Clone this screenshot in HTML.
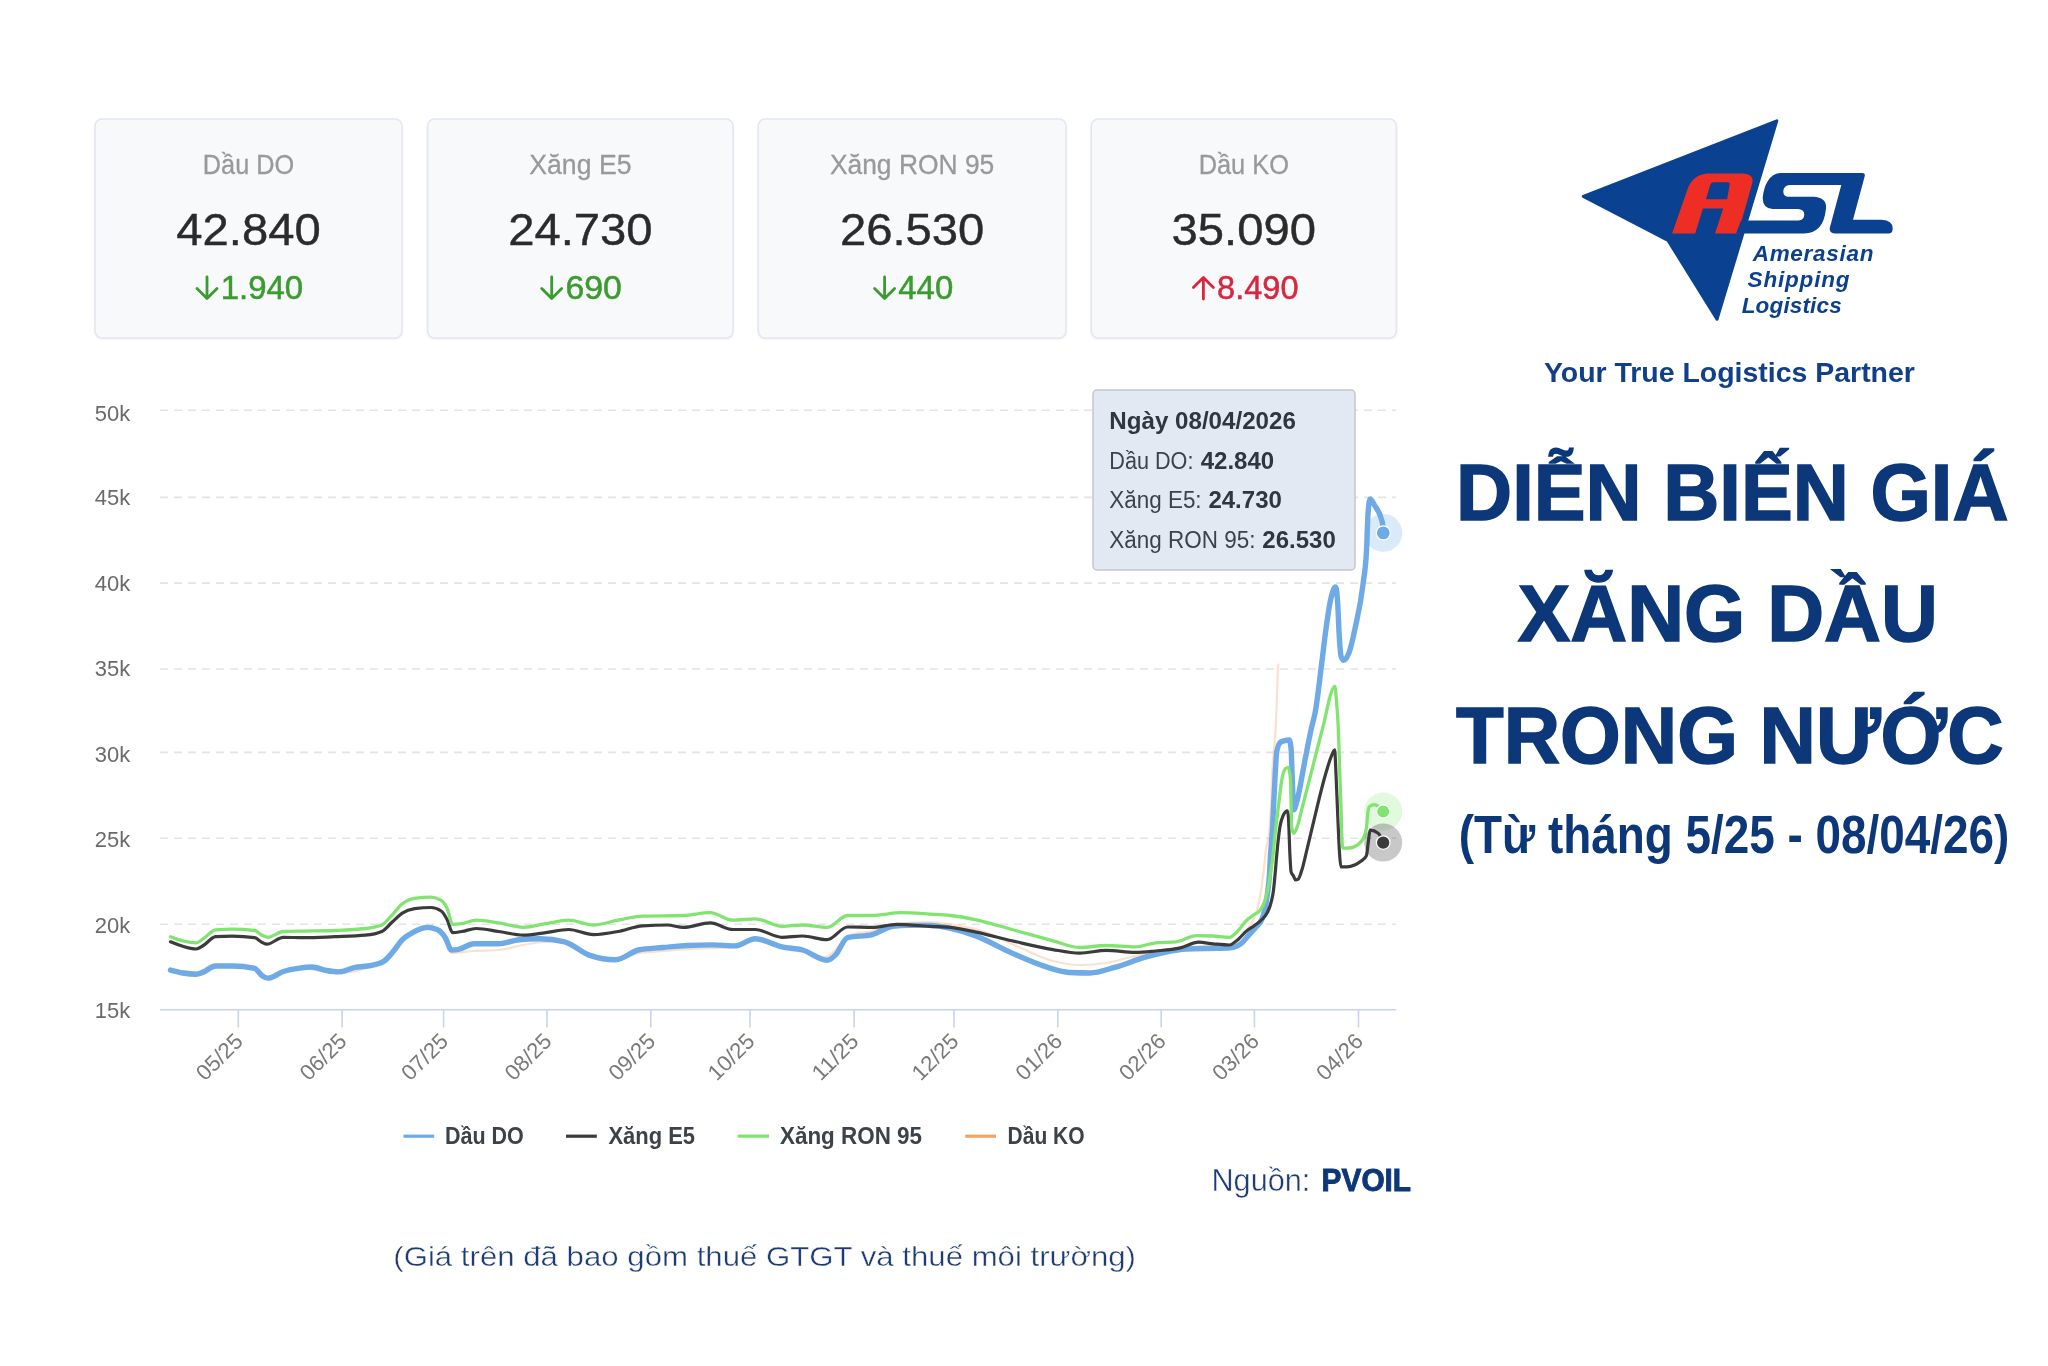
<!DOCTYPE html>
<html lang="vi"><head><meta charset="utf-8"><title>Diễn biến giá xăng dầu trong nước</title>
<style>
html,body{margin:0;padding:0;background:#fff;}
body{width:2048px;height:1366px;overflow:hidden;font-family:"Liberation Sans",sans-serif;}
svg{display:block;will-change:transform;font-family:"Liberation Sans",sans-serif;}
.grid line{stroke:#e4e4e4;stroke-width:1.6;stroke-dasharray:8 6;}
.ylab text{font-size:22.4px;fill:#6a6a6a;}
.xlab text{font-size:22px;fill:#7a7a7a;text-anchor:end;}
.ctitle{font-size:27.6px;fill:#999;stroke:#999;stroke-width:0.3px;text-anchor:middle;}
.cval{font-size:44.6px;fill:#2b2b2b;stroke:#2b2b2b;stroke-width:0.4px;text-anchor:middle;}
.leg text{font-size:23.4px;font-weight:bold;fill:#3d4248;}
.tt text{font-size:23px;fill:#3a424d;}
.tt .b{font-weight:bold;fill:#2f3640;}
.title text{font-weight:bold;fill:#0c3778;text-anchor:middle;}
</style></head><body>
<svg width="2048" height="1366" viewBox="0 0 2048 1366">
<defs>
<filter id="cs" x="-5%" y="-5%" width="110%" height="115%"><feGaussianBlur stdDeviation="1.5"/></filter>
</defs>
<rect width="2048" height="1366" fill="#ffffff"/>

<g id="cards">
<rect x="95.0" y="121" width="307.0" height="218" rx="7" fill="#dfe2ec" opacity="0.7" filter="url(#cs)"/>
<rect x="95.0" y="119" width="307.0" height="219" rx="7" fill="#f8f9fb" stroke="#e3e5ef" stroke-width="1.5"/>
<text class="ctitle" x="248.5" y="173.7" textLength="91.3" lengthAdjust="spacingAndGlyphs">Dầu DO</text>
<text class="cval" x="248.5" y="245.4" textLength="144.4" lengthAdjust="spacingAndGlyphs">42.840</text>
<path d="M207.0 277 V298 M197.0 288.5 L207.0 298.5 L217.0 288.5" fill="none" stroke="#3a9b2e" stroke-width="2.8" stroke-linecap="round" stroke-linejoin="round"/>
<text x="220.7" y="299.2" font-size="32.6" fill="#3a9b2e" stroke="#3a9b2e" stroke-width="0.5" textLength="82.4" lengthAdjust="spacingAndGlyphs">1.940</text>
<rect x="427.6" y="121" width="305.5" height="218" rx="7" fill="#dfe2ec" opacity="0.7" filter="url(#cs)"/>
<rect x="427.6" y="119" width="305.5" height="219" rx="7" fill="#f8f9fb" stroke="#e3e5ef" stroke-width="1.5"/>
<text class="ctitle" x="580.4" y="173.7" textLength="102.3" lengthAdjust="spacingAndGlyphs">Xăng E5</text>
<text class="cval" x="580.4" y="245.4" textLength="144.4" lengthAdjust="spacingAndGlyphs">24.730</text>
<path d="M551.7 277 V298 M541.7 288.5 L551.7 298.5 L561.7 288.5" fill="none" stroke="#3a9b2e" stroke-width="2.8" stroke-linecap="round" stroke-linejoin="round"/>
<text x="565.4" y="299.2" font-size="32.6" fill="#3a9b2e" stroke="#3a9b2e" stroke-width="0.5" textLength="56.5" lengthAdjust="spacingAndGlyphs">690</text>
<rect x="758.3" y="121" width="307.7" height="218" rx="7" fill="#dfe2ec" opacity="0.7" filter="url(#cs)"/>
<rect x="758.3" y="119" width="307.7" height="219" rx="7" fill="#f8f9fb" stroke="#e3e5ef" stroke-width="1.5"/>
<text class="ctitle" x="912.1" y="173.7" textLength="164.4" lengthAdjust="spacingAndGlyphs">Xăng RON 95</text>
<text class="cval" x="912.1" y="245.4" textLength="144.4" lengthAdjust="spacingAndGlyphs">26.530</text>
<path d="M884.6 277 V298 M874.6 288.5 L884.6 298.5 L894.6 288.5" fill="none" stroke="#3a9b2e" stroke-width="2.8" stroke-linecap="round" stroke-linejoin="round"/>
<text x="898.3" y="299.2" font-size="32.6" fill="#3a9b2e" stroke="#3a9b2e" stroke-width="0.5" textLength="54.9" lengthAdjust="spacingAndGlyphs">440</text>
<rect x="1091.3" y="121" width="305.1" height="218" rx="7" fill="#dfe2ec" opacity="0.7" filter="url(#cs)"/>
<rect x="1091.3" y="119" width="305.1" height="219" rx="7" fill="#f8f9fb" stroke="#e3e5ef" stroke-width="1.5"/>
<text class="ctitle" x="1243.8" y="173.7" textLength="90.3" lengthAdjust="spacingAndGlyphs">Dầu KO</text>
<text class="cval" x="1243.8" y="245.4" textLength="144.4" lengthAdjust="spacingAndGlyphs">35.090</text>
<path d="M1203.4 299 V278 M1193.4 287.5 L1203.4 277.5 L1213.4 287.5" fill="none" stroke="#d8263f" stroke-width="2.8" stroke-linecap="round" stroke-linejoin="round"/>
<text x="1217.1" y="299.2" font-size="32.6" fill="#d8263f" stroke="#d8263f" stroke-width="0.5" textLength="81.4" lengthAdjust="spacingAndGlyphs">8.490</text>
</g>
<g class="grid">
<line x1="160" y1="410.2" x2="1396" y2="410.2"/>
<line x1="160" y1="497.4" x2="1396" y2="497.4"/>
<line x1="160" y1="583.1" x2="1396" y2="583.1"/>
<line x1="160" y1="669.0" x2="1396" y2="669.0"/>
<line x1="160" y1="752.4" x2="1396" y2="752.4"/>
<line x1="160" y1="838.3" x2="1396" y2="838.3"/>
<line x1="160" y1="924.2" x2="1396" y2="924.2"/>
</g>
<line x1="160" y1="1009.8" x2="1396" y2="1009.8" stroke="#c9d3f0" stroke-width="1.6"/>
<g stroke="#c9d3f0" stroke-width="1.6">
<line x1="238.3" y1="1010" x2="238.3" y2="1027.5"/>
<line x1="342.1" y1="1010" x2="342.1" y2="1027.5"/>
<line x1="443.6" y1="1010" x2="443.6" y2="1027.5"/>
<line x1="547.0" y1="1010" x2="547.0" y2="1027.5"/>
<line x1="650.8" y1="1010" x2="650.8" y2="1027.5"/>
<line x1="750.0" y1="1010" x2="750.0" y2="1027.5"/>
<line x1="854.1" y1="1010" x2="854.1" y2="1027.5"/>
<line x1="954.0" y1="1010" x2="954.0" y2="1027.5"/>
<line x1="1057.8" y1="1010" x2="1057.8" y2="1027.5"/>
<line x1="1161.2" y1="1010" x2="1161.2" y2="1027.5"/>
<line x1="1254.4" y1="1010" x2="1254.4" y2="1027.5"/>
<line x1="1358.5" y1="1010" x2="1358.5" y2="1027.5"/>
</g>
<g class="ylab">
<text x="94.8" y="421.1" textLength="35.4" lengthAdjust="spacingAndGlyphs">50k</text>
<text x="94.8" y="504.8" textLength="35.4" lengthAdjust="spacingAndGlyphs">45k</text>
<text x="94.8" y="590.6" textLength="35.4" lengthAdjust="spacingAndGlyphs">40k</text>
<text x="94.8" y="676.2" textLength="35.4" lengthAdjust="spacingAndGlyphs">35k</text>
<text x="94.8" y="761.5" textLength="35.4" lengthAdjust="spacingAndGlyphs">30k</text>
<text x="94.8" y="847.4" textLength="35.4" lengthAdjust="spacingAndGlyphs">25k</text>
<text x="94.8" y="933.0" textLength="35.4" lengthAdjust="spacingAndGlyphs">20k</text>
<text x="94.8" y="1018.4" textLength="35.4" lengthAdjust="spacingAndGlyphs">15k</text>
</g>
<g class="xlab">
<text transform="translate(244.3 1042.5) rotate(-45)" textLength="55.5" lengthAdjust="spacingAndGlyphs">05/25</text>
<text transform="translate(348.1 1042.5) rotate(-45)" textLength="55.5" lengthAdjust="spacingAndGlyphs">06/25</text>
<text transform="translate(449.6 1042.5) rotate(-45)" textLength="55.5" lengthAdjust="spacingAndGlyphs">07/25</text>
<text transform="translate(553.0 1042.5) rotate(-45)" textLength="55.5" lengthAdjust="spacingAndGlyphs">08/25</text>
<text transform="translate(656.8 1042.5) rotate(-45)" textLength="55.5" lengthAdjust="spacingAndGlyphs">09/25</text>
<text transform="translate(756.0 1042.5) rotate(-45)" textLength="55.5" lengthAdjust="spacingAndGlyphs">10/25</text>
<text transform="translate(860.1 1042.5) rotate(-45)" textLength="55.5" lengthAdjust="spacingAndGlyphs">11/25</text>
<text transform="translate(960.0 1042.5) rotate(-45)" textLength="55.5" lengthAdjust="spacingAndGlyphs">12/25</text>
<text transform="translate(1063.8 1042.5) rotate(-45)" textLength="55.5" lengthAdjust="spacingAndGlyphs">01/26</text>
<text transform="translate(1167.2 1042.5) rotate(-45)" textLength="55.5" lengthAdjust="spacingAndGlyphs">02/26</text>
<text transform="translate(1260.4 1042.5) rotate(-45)" textLength="55.5" lengthAdjust="spacingAndGlyphs">03/26</text>
<text transform="translate(1364.5 1042.5) rotate(-45)" textLength="55.5" lengthAdjust="spacingAndGlyphs">04/26</text>
</g>
<g fill="none" stroke-linecap="round" stroke-linejoin="round">
<path d="M170.5 969.0C179.0 970.8 187.6 972.5 196.1 972.5C202.6 972.5 209.1 964.0 215.6 964.0C228.6 964.0 241.6 964.8 254.6 966.5C259.0 967.1 263.5 977.0 267.9 977.0C277.8 977.0 287.8 968.0 297.7 968.0C311.4 968.0 325.0 973.0 338.7 973.0C349.6 973.0 360.6 970.7 371.5 966.0C378.3 963.1 385.2 959.3 392.0 954.0C399.5 948.2 407.1 934.8 414.6 932.0C420.1 930.0 425.5 929.0 431.0 929.0C435.8 929.0 440.5 932.3 445.3 939.0C447.5 942.1 449.8 953.0 452.0 953.0C459.3 953.0 466.7 951.5 474.0 951.0C482.2 950.4 490.4 950.7 498.6 950.0C506.7 949.3 514.9 946.4 523.0 945.0C530.3 943.8 537.7 942.0 545.0 942.0C552.7 942.0 560.3 942.0 568.0 942.0C575.3 942.0 582.7 952.2 590.0 955.0C598.7 958.3 607.3 960.0 616.0 960.0C624.0 960.0 632.0 954.3 640.0 953.0C648.3 951.7 656.7 951.7 665.0 951.0C673.3 950.3 681.7 949.6 690.0 949.0C705.0 948.0 720.0 948.3 735.0 947.0C741.7 946.4 748.3 940.0 755.0 940.0C764.0 940.0 773.0 945.3 782.0 947.0C789.0 948.4 796.0 948.4 803.0 950.0C810.3 951.7 817.7 957.0 825.0 957.0C830.0 957.0 835.0 949.6 840.0 945.0C843.3 941.9 846.7 936.2 850.0 935.0C857.3 932.3 864.7 932.8 872.0 931.0C879.7 929.1 887.3 924.9 895.0 924.0C906.7 922.7 918.3 922.0 930.0 922.0C940.0 922.0 950.0 924.1 960.0 926.0C968.3 927.6 976.7 929.2 985.0 932.0C994.0 935.0 1003.0 940.1 1012.0 944.0C1025.7 949.9 1039.3 957.5 1053.0 961.0C1061.9 963.3 1070.8 965.0 1079.7 965.0C1088.5 965.0 1097.2 964.3 1106.0 963.0C1115.7 961.5 1125.3 958.1 1135.0 956.0C1143.3 954.2 1151.7 952.4 1160.0 951.0C1170.0 949.3 1180.0 948.0 1190.0 947.0C1203.3 945.7 1216.7 946.3 1230.0 945.0C1235.0 944.5 1240.0 938.9 1245.0 932.0C1248.9 926.6 1252.7 924.9 1256.6 911.2C1257.7 907.4 1258.7 904.2 1259.8 898.3C1260.6 893.9 1261.4 888.2 1262.2 882.2C1262.9 877.2 1263.5 872.0 1264.2 866.1C1264.8 861.1 1265.3 854.6 1265.9 850.0C1267.1 840.5 1268.2 843.8 1269.4 831.4C1270.5 819.4 1271.7 782.3 1272.8 763.4C1273.9 744.5 1275.1 745.2 1276.2 718.0C1276.8 703.6 1277.4 684.2 1278.0 664.7" stroke="#f7c9a4" stroke-width="2.2" opacity="0.55"/>
<path d="M170.5 970.1C174.6 971.2 178.7 972.3 182.8 973.0C187.2 973.7 191.7 974.2 196.1 974.2C198.5 974.2 200.9 973.0 203.3 972.1C207.4 970.6 211.5 966.0 215.6 966.0C221.1 966.0 226.5 966.0 232.0 966.0C239.5 966.0 247.1 966.8 254.6 968.4C257.0 968.9 259.4 974.0 261.8 975.6C263.8 977.0 265.9 978.1 267.9 978.1C273.0 978.1 278.2 973.1 283.3 971.5C288.1 970.0 292.9 969.2 297.7 968.4C302.5 967.7 307.2 967.0 312.0 967.0C316.8 967.0 321.6 969.7 326.4 970.5C330.5 971.2 334.6 971.9 338.7 971.9C344.2 971.9 349.6 968.5 355.1 967.4C360.6 966.3 366.0 966.7 371.5 965.4C375.6 964.4 379.7 964.0 383.8 961.3C386.5 959.5 389.3 956.2 392.0 953.1C395.4 949.2 398.9 943.2 402.3 939.7C406.4 935.6 410.5 933.6 414.6 931.5C418.7 929.5 422.8 927.4 426.9 927.4C430.3 927.4 433.7 928.1 437.1 929.5C439.8 930.6 442.6 933.4 445.3 937.7C447.4 940.9 449.4 950.0 451.5 950.0C453.5 950.0 455.6 949.9 457.6 949.6C463.1 948.9 468.5 943.8 474.0 943.8C482.2 943.8 490.4 943.8 498.6 943.8C505.5 943.8 512.3 940.4 519.2 939.7C526.0 939.0 532.9 938.7 539.7 938.7C548.0 938.7 556.3 939.7 564.6 941.8C572.8 943.8 581.0 952.2 589.2 955.1C598.1 958.2 607.0 959.8 615.9 959.8C623.4 959.8 630.9 951.5 638.4 950.0C646.6 948.3 654.9 948.3 663.1 947.5C671.3 946.8 679.5 945.9 687.7 945.5C695.9 945.1 704.1 944.9 712.3 944.9C719.8 944.9 727.3 945.9 734.8 945.9C741.6 945.9 748.5 938.7 755.3 938.7C764.2 938.7 773.1 945.0 782.0 946.9C788.8 948.4 795.7 948.1 802.5 950.0C810.7 952.2 818.9 960.2 827.1 960.2C829.8 960.2 832.6 957.7 835.3 955.1C839.4 951.2 843.5 938.7 847.6 937.7C855.8 935.6 864.0 936.7 872.2 934.6C879.0 932.9 885.9 927.2 892.7 926.4C898.2 925.7 903.7 925.4 909.2 925.4C916.1 925.4 923.1 925.4 930.0 925.4C936.8 925.4 943.7 926.9 950.5 928.4C958.7 930.1 966.9 932.6 975.1 935.6C987.4 940.1 999.7 947.7 1012.0 953.1C1022.9 957.9 1033.9 963.0 1044.8 966.4C1053.0 969.0 1061.3 972.1 1069.5 972.5C1076.3 972.8 1083.2 973.0 1090.0 973.0C1098.2 973.0 1106.4 969.6 1114.6 967.4C1124.8 964.6 1135.1 960.1 1145.3 957.2C1152.2 955.2 1159.0 953.4 1165.9 952.0C1172.7 950.6 1179.6 949.3 1186.4 949.0C1196.6 948.5 1206.9 948.6 1217.1 948.3C1221.4 948.2 1225.7 948.1 1230.0 947.8C1234.0 947.5 1238.1 946.1 1242.1 942.7C1244.2 940.9 1246.4 937.8 1248.5 935.4C1250.9 932.7 1253.4 930.4 1255.8 927.4C1257.9 924.7 1260.1 924.4 1262.2 918.5C1263.3 915.4 1264.4 912.4 1265.5 906.4C1266.3 902.1 1267.1 897.3 1267.9 890.3C1268.4 885.6 1269.0 883.1 1269.5 874.2C1269.8 869.7 1270.0 863.0 1270.3 858.1C1271.0 845.3 1271.7 841.1 1272.4 829.6C1273.2 815.9 1274.1 794.1 1274.9 779.8C1275.5 768.9 1276.2 754.0 1276.8 751.2C1278.2 744.9 1279.7 742.4 1281.1 741.8C1283.8 740.6 1286.5 740.0 1289.2 740.0C1289.8 740.0 1290.5 742.9 1291.1 748.7C1291.5 752.4 1291.9 770.5 1292.3 779.8C1292.8 791.4 1293.3 809.7 1293.8 809.7C1295.0 809.7 1296.1 803.9 1297.3 799.7C1299.8 790.7 1302.3 773.8 1304.8 761.1C1306.9 750.6 1308.9 739.5 1311.0 730.0C1312.5 722.9 1314.1 718.9 1315.6 710.1C1317.6 698.4 1319.7 679.4 1321.7 663.4C1323.2 651.9 1324.6 638.7 1326.1 628.2C1327.6 617.6 1329.0 606.9 1330.5 600.1C1332.3 591.9 1334.0 586.9 1335.8 586.9C1336.4 586.9 1337.0 593.0 1337.6 601.8C1338.2 610.1 1338.7 628.0 1339.3 637.0C1339.9 646.5 1340.5 654.5 1341.1 656.3C1342.0 658.9 1342.8 660.2 1343.7 660.2C1345.5 660.2 1347.2 657.4 1349.0 652.8C1351.0 647.5 1353.1 637.8 1355.1 628.2C1357.7 615.8 1360.4 606.6 1363.0 584.3C1364.2 574.2 1365.4 572.6 1366.6 549.1C1367.1 540.0 1367.5 520.5 1368.0 513.9C1368.7 504.0 1369.4 499.0 1370.1 499.0C1371.6 499.0 1373.0 502.7 1374.5 505.2C1377.1 509.7 1379.8 511.0 1382.4 522.7C1382.7 524.0 1383.0 528.5 1383.3 532.9" stroke="#6eaae6" stroke-width="5.4"/>
<path d="M170.5 941.8C174.6 943.5 178.7 945.1 182.8 946.3C187.2 947.6 191.7 949.0 196.1 949.0C198.5 949.0 200.9 946.9 203.3 945.5C207.4 943.2 211.5 937.0 215.6 936.7C221.1 936.3 226.5 936.1 232.0 936.1C239.5 936.1 247.1 936.6 254.6 937.7C257.0 938.0 259.4 941.0 261.8 942.2C263.5 943.0 265.2 944.2 266.9 944.2C272.4 944.2 277.8 937.3 283.3 937.3C290.1 937.3 297.0 937.7 303.8 937.7C314.1 937.7 324.3 937.1 334.6 936.7C344.8 936.3 355.1 936.2 365.3 935.2C370.8 934.7 376.2 934.0 381.7 931.5C385.1 930.0 388.6 925.4 392.0 922.3C395.4 919.2 398.9 915.3 402.3 913.1C406.4 910.4 410.5 909.2 414.6 908.6C420.1 907.9 425.5 907.5 431.0 907.5C434.4 907.5 437.8 908.7 441.2 911.0C443.3 912.4 445.3 916.1 447.4 920.2C449.1 923.6 450.8 932.6 452.5 932.6C455.6 932.6 458.6 932.0 461.7 931.5C466.5 930.8 471.3 928.5 476.1 928.5C483.6 928.5 491.1 930.4 498.6 931.5C506.8 932.7 515.1 935.2 523.3 935.2C530.8 935.2 538.3 933.5 545.8 932.6C553.4 931.6 561.1 929.5 568.7 929.5C576.9 929.5 585.1 934.6 593.3 934.6C601.5 934.6 609.7 933.0 617.9 931.5C626.1 930.0 634.3 926.3 642.5 925.8C650.7 925.3 659.0 925.0 667.2 925.0C672.7 925.0 678.1 927.4 683.6 927.4C692.5 927.4 701.3 922.9 710.2 922.9C717.7 922.9 725.3 929.5 732.8 929.5C740.3 929.5 747.8 929.5 755.3 929.5C764.2 929.5 773.1 937.3 782.0 937.3C788.8 937.3 795.7 936.0 802.5 936.0C810.7 936.0 818.9 939.7 827.1 939.7C833.9 939.7 840.8 927.0 847.6 927.0C855.8 927.0 864.0 927.4 872.2 927.4C880.4 927.4 888.7 924.3 896.9 924.3C907.8 924.3 918.8 925.8 929.7 926.4C936.6 926.8 943.6 926.7 950.5 927.4C958.7 928.2 966.9 930.2 975.1 931.9C987.4 934.4 999.7 938.0 1012.0 940.8C1025.7 943.9 1039.3 947.4 1053.0 949.6C1061.9 951.1 1070.8 953.1 1079.7 953.1C1088.6 953.1 1097.5 950.4 1106.4 950.4C1116.0 950.4 1125.5 952.4 1135.1 952.4C1141.9 952.4 1148.8 951.6 1155.6 951.0C1163.8 950.2 1172.0 949.8 1180.2 947.9C1186.4 946.5 1192.5 942.2 1198.7 942.2C1203.5 942.2 1208.2 943.4 1213.0 943.8C1218.5 944.3 1223.9 945.0 1229.4 945.0C1232.3 945.0 1235.2 941.8 1238.1 939.4C1240.8 937.2 1243.4 933.7 1246.1 931.4C1248.8 929.1 1251.5 927.7 1254.2 925.7C1256.9 923.7 1259.5 922.3 1262.2 919.3C1263.8 917.5 1265.5 916.2 1267.1 912.9C1268.4 910.2 1269.8 907.9 1271.1 902.4C1271.9 899.1 1272.7 896.7 1273.5 890.3C1274.0 886.0 1274.6 880.0 1275.1 874.2C1275.7 868.1 1276.2 860.5 1276.8 854.5C1277.8 843.5 1278.9 833.5 1279.9 827.1C1280.9 820.7 1282.0 818.2 1283.0 815.9C1284.5 812.6 1285.9 810.9 1287.4 810.9C1287.7 810.9 1288.1 813.0 1288.4 817.1C1288.9 823.3 1289.4 844.9 1289.9 854.5C1290.3 862.2 1290.7 870.5 1291.1 871.9C1291.9 874.8 1292.8 874.6 1293.6 876.2C1294.2 877.4 1294.9 880.0 1295.5 880.0C1296.3 880.0 1297.1 879.8 1297.9 879.4C1299.2 878.8 1300.4 874.4 1301.7 870.6C1303.6 865.0 1305.4 855.8 1307.3 848.2C1309.8 838.1 1312.2 827.2 1314.7 817.1C1318.0 803.4 1321.4 789.0 1324.7 777.3C1326.8 770.1 1328.8 762.4 1330.9 757.4C1332.2 754.3 1333.4 749.9 1334.7 749.9C1335.0 749.9 1335.4 760.8 1335.7 767.3C1336.4 780.9 1337.1 801.6 1337.8 817.1C1338.4 830.4 1339.0 845.9 1339.6 854.5C1340.0 860.7 1340.5 866.9 1340.9 866.9C1343.0 866.9 1345.0 866.9 1347.1 866.9C1349.6 866.9 1352.1 866.1 1354.6 865.0C1356.7 864.1 1358.7 863.0 1360.8 861.3C1362.7 859.8 1364.5 859.4 1366.4 855.7C1367.0 854.4 1367.7 846.4 1368.3 842.0C1368.9 837.9 1369.5 830.2 1370.1 830.2C1372.8 830.2 1375.5 831.2 1378.2 833.3C1379.9 834.6 1381.5 838.6 1383.2 842.6" stroke="#3b3b3b" stroke-width="3.2"/>
<path d="M170.5 936.7C174.6 938.2 178.7 939.8 182.8 940.8C187.2 941.9 191.7 942.8 196.1 942.8C198.5 942.8 200.9 940.2 203.3 938.7C207.4 936.1 211.5 930.3 215.6 929.9C221.1 929.4 226.5 929.1 232.0 929.1C239.5 929.1 247.1 929.6 254.6 930.5C257.0 930.8 259.4 934.0 261.8 935.2C263.8 936.2 265.9 937.3 267.9 937.3C273.0 937.3 278.2 931.7 283.3 931.5C290.1 931.2 297.0 931.2 303.8 931.1C314.1 930.9 324.3 930.9 334.6 930.5C344.8 930.1 355.1 929.8 365.3 928.5C370.8 927.8 376.2 927.3 381.7 925.0C385.1 923.5 388.6 918.6 392.0 915.1C395.4 911.6 398.9 906.5 402.3 903.8C406.4 900.5 410.5 898.9 414.6 898.3C420.1 897.5 425.5 897.1 431.0 897.1C434.4 897.1 437.8 898.2 441.2 900.4C443.3 901.7 445.3 904.3 447.4 909.0C449.1 912.9 450.8 924.4 452.5 924.4C455.6 924.4 458.6 924.1 461.7 923.7C466.5 923.0 471.3 920.2 476.1 920.2C483.6 920.2 491.1 921.8 498.6 922.9C506.8 924.1 515.1 927.4 523.3 927.4C530.8 927.4 538.3 924.9 545.8 923.7C553.4 922.5 561.1 920.2 568.7 920.2C576.9 920.2 585.1 925.0 593.3 925.0C601.5 925.0 609.7 921.7 617.9 920.2C626.1 918.7 634.3 916.3 642.5 916.1C656.2 915.7 669.9 915.9 683.6 915.5C692.5 915.2 701.3 912.7 710.2 912.7C717.7 912.7 725.3 920.2 732.8 920.2C740.3 920.2 747.8 918.8 755.3 918.8C764.2 918.8 773.1 926.4 782.0 926.4C788.8 926.4 795.7 925.0 802.5 925.0C810.7 925.0 818.9 927.4 827.1 927.4C833.9 927.4 840.8 915.5 847.6 915.5C855.8 915.5 864.0 915.5 872.2 915.5C881.8 915.5 891.4 912.7 901.0 912.7C910.6 912.7 920.1 913.5 929.7 914.1C936.6 914.5 943.6 914.7 950.5 915.5C958.7 916.4 966.9 917.9 975.1 919.6C987.4 922.1 999.7 926.2 1012.0 929.5C1025.7 933.2 1039.3 937.2 1053.0 940.8C1061.9 943.1 1070.8 947.5 1079.7 947.5C1088.6 947.5 1097.5 945.5 1106.4 945.5C1116.0 945.5 1125.5 946.9 1135.1 946.9C1141.9 946.9 1148.8 943.5 1155.6 942.8C1162.4 942.1 1169.3 942.5 1176.1 941.8C1182.9 941.1 1189.8 935.6 1196.6 935.6C1202.1 935.6 1207.5 935.7 1213.0 936.0C1218.5 936.3 1223.9 937.3 1229.4 937.3C1232.3 937.3 1235.2 933.5 1238.1 930.6C1240.8 927.9 1243.4 923.6 1246.1 920.9C1248.8 918.2 1251.5 916.6 1254.2 914.5C1256.3 912.8 1258.5 912.9 1260.6 909.6C1261.9 907.6 1263.3 905.7 1264.6 901.6C1265.7 898.2 1266.8 894.4 1267.9 888.7C1268.7 884.6 1269.5 879.3 1270.3 874.2C1271.1 869.1 1271.9 864.9 1272.7 858.1C1273.4 851.9 1274.2 842.8 1274.9 835.8C1276.1 824.1 1277.4 814.7 1278.6 804.7C1279.7 796.1 1280.7 785.7 1281.8 779.8C1283.0 772.9 1284.3 769.7 1285.5 768.6C1286.5 767.7 1287.4 767.3 1288.4 767.3C1289.1 767.3 1289.8 771.5 1290.5 779.8C1290.7 782.2 1290.9 796.8 1291.1 804.7C1291.3 812.6 1291.5 825.8 1291.7 827.1C1292.3 831.2 1293.0 833.3 1293.6 833.3C1294.6 833.3 1295.7 830.8 1296.7 828.3C1298.6 823.9 1300.4 814.3 1302.3 807.2C1305.2 796.2 1308.1 784.8 1311.0 773.6C1314.7 759.1 1318.5 743.7 1322.2 730.0C1326.4 714.4 1330.7 686.4 1334.9 686.4C1335.5 686.4 1336.1 696.3 1336.7 703.9C1337.3 711.1 1337.8 716.1 1338.4 730.0C1338.8 739.8 1339.2 755.3 1339.6 767.3C1340.0 780.3 1340.5 791.7 1340.9 804.7C1341.3 816.7 1341.7 835.1 1342.1 842.0C1342.3 845.5 1342.5 848.2 1342.7 848.2C1345.0 848.2 1347.3 848.1 1349.6 848.0C1352.1 847.9 1354.6 847.0 1357.1 845.1C1359.2 843.5 1361.2 842.8 1363.3 838.3C1364.3 836.0 1365.4 835.0 1366.4 828.3C1366.8 825.7 1367.2 818.0 1367.6 814.6C1368.2 809.2 1368.9 807.0 1369.5 806.5C1371.2 805.3 1372.8 804.7 1374.5 804.7C1377.4 804.7 1380.3 808.1 1383.2 811.5" stroke="#82e470" stroke-width="3.3"/>
</g>
<circle cx="1383.3" cy="532.9" r="19" fill="#6eaae6" opacity="0.25"/><circle cx="1383.3" cy="532.9" r="7" fill="#6eaae6" stroke="#fff" stroke-width="1.2"/>
<circle cx="1383.2" cy="811.5" r="19" fill="#82e470" opacity="0.24"/><circle cx="1383.2" cy="811.5" r="6.6" fill="#82e470" stroke="#fff" stroke-width="1.2"/>
<circle cx="1383.2" cy="842.6" r="19" fill="#3b3b3b" opacity="0.28"/><circle cx="1383.2" cy="842.6" r="6.8" fill="#3b3b3b" stroke="#fff" stroke-width="1.2"/>
<g class="tt">
<rect x="1093" y="390" width="262" height="180" rx="4" fill="#e3e9f2" stroke="#c3c7cc" stroke-width="1.5"/>
<text class="b" x="1109.3" y="429" textLength="186.6" lengthAdjust="spacingAndGlyphs">Ngày 08/04/2026</text>
<text x="1109.3" y="468.8" textLength="84.1" lengthAdjust="spacingAndGlyphs">Dầu DO:</text><text class="b" x="1200.7" y="468.8" textLength="73.5" lengthAdjust="spacingAndGlyphs">42.840</text>
<text x="1109.3" y="508.1" textLength="92.3" lengthAdjust="spacingAndGlyphs">Xăng E5:</text><text class="b" x="1208.4" y="508.1" textLength="73.5" lengthAdjust="spacingAndGlyphs">24.730</text>
<text x="1109.3" y="547.7" textLength="146.1" lengthAdjust="spacingAndGlyphs">Xăng RON 95:</text><text class="b" x="1262.3" y="547.7" textLength="73.5" lengthAdjust="spacingAndGlyphs">26.530</text>
</g>
<g class="leg">
<line x1="403.5" y1="1136.2" x2="434.2" y2="1136.2" stroke="#6eaae6" stroke-width="3.2"/>
<text x="445.0" y="1144.3" textLength="78.8" lengthAdjust="spacingAndGlyphs">Dầu DO</text>
<line x1="566.0" y1="1136.2" x2="596.8" y2="1136.2" stroke="#3b3b3b" stroke-width="3.2"/>
<text x="608.4" y="1144.3" textLength="86.6" lengthAdjust="spacingAndGlyphs">Xăng E5</text>
<line x1="737.7" y1="1136.2" x2="769.1" y2="1136.2" stroke="#82e470" stroke-width="3.2"/>
<text x="780.0" y="1144.3" textLength="142.0" lengthAdjust="spacingAndGlyphs">Xăng RON 95</text>
<line x1="965.3" y1="1136.2" x2="996.0" y2="1136.2" stroke="#f4a261" stroke-width="3.2"/>
<text x="1007.6" y="1144.3" textLength="77.0" lengthAdjust="spacingAndGlyphs">Dầu KO</text>
</g>
<text x="1211.4" y="1190.6" font-size="32" fill="#1d3b75" stroke="#fff" stroke-width="0.45" textLength="99" lengthAdjust="spacingAndGlyphs">Nguồn:</text>
<text x="1321.6" y="1190.6" font-size="32" font-weight="bold" fill="#0c3778" stroke="#0c3778" stroke-width="0.9" textLength="89.5" lengthAdjust="spacingAndGlyphs">PVOIL</text>
<text x="393.3" y="1266.1" font-size="28.5" fill="#1d3b75" stroke="#fff" stroke-width="0.4" textLength="742.7" lengthAdjust="spacingAndGlyphs">(Giá trên đã bao gồm thuế GTGT và thuế môi trường)</text>
<g id="logo">
<path d="M1776.8 120.8 L1583.3 196.4 L1668 240.4 L1717 319.3 Z" fill="#0a4191" stroke="#0a4191" stroke-width="3" stroke-linejoin="round"/>
<path fill-rule="evenodd" fill="#ee2e24" d="M1672.1 233.6 L1687 190.8 Q1691.5 175.5 1706.7 173.5 L1741.9 173.5 Q1754.5 174 1752.3 183.1 L1738 233.6 L1715 233.6 L1723.2 208.4 L1702.9 208.4 L1695.2 233.6 Z M1713.2 182.3 L1727.5 182.3 Q1730.3 182.5 1729.6 185 L1727.1 199.3 L1705.9 199.3 L1710.2 185 Q1711 182.5 1713.2 182.3 Z"/>
<path fill="#0a4191" d="M1780.1 173.1 L1862.3 173.1 Q1865.6 173.2 1864.7 176.2 L1853 219.8 L1881.6 219.8 Q1893.5 220.5 1892.6 229.5 Q1892.4 233.3 1888.5 233.5 L1835.5 233.5 Q1828.6 233.2 1829.9 227.5 L1841.3 185.1 L1789.8 185.1 Q1783.8 185.6 1783.3 191 Q1783.2 196.6 1788.5 196.8 L1813.5 196.8 Q1827 197.5 1826 208.5 Q1824.5 222 1819 227.5 Q1813.5 233.3 1804 233.5 L1736 233.5 L1741 220.6 L1798.5 220.6 Q1804.2 220 1804.3 214.5 Q1804.2 209.2 1797.8 208.9 L1772.5 208.9 Q1762.3 208.3 1762.8 197.2 Q1763.8 187.5 1767.5 181.5 Q1772 173.8 1780.1 173.1 Z"/>
<g font-size="22.5" font-weight="bold" font-style="italic" fill="#0b4090">
<text x="1752.7" y="260.7" textLength="120.7" lengthAdjust="spacing">Amerasian</text>
<text x="1747.6" y="286.9" textLength="101.9" lengthAdjust="spacing">Shipping</text>
<text x="1741.7" y="313.4" textLength="100" lengthAdjust="spacing">Logistics</text>
</g>
</g>
<text x="1543.9" y="382.4" font-size="28.5" font-weight="bold" fill="#123f89" textLength="371" lengthAdjust="spacingAndGlyphs">Your True Logistics Partner</text>
<g class="title">
<text x="1732.3" y="520.4" font-size="80" stroke="#0c3778" stroke-width="1.5" stroke-linejoin="miter" textLength="552.5" lengthAdjust="spacingAndGlyphs">DIỄN BIẾN GIÁ</text>
<text x="1727.8" y="640.6" font-size="80" stroke="#0c3778" stroke-width="1.5" stroke-linejoin="miter" textLength="420.2" lengthAdjust="spacingAndGlyphs">XĂNG DẦU</text>
<text x="1729.8" y="762.9" font-size="80" stroke="#0c3778" stroke-width="1.5" stroke-linejoin="miter" textLength="547.5" lengthAdjust="spacingAndGlyphs">TRONG NƯỚC</text>
<text x="1734" y="852.8" font-size="53" textLength="550.7" lengthAdjust="spacingAndGlyphs">(Từ tháng 5/25 - 08/04/26)</text>
</g>
</svg></body></html>
